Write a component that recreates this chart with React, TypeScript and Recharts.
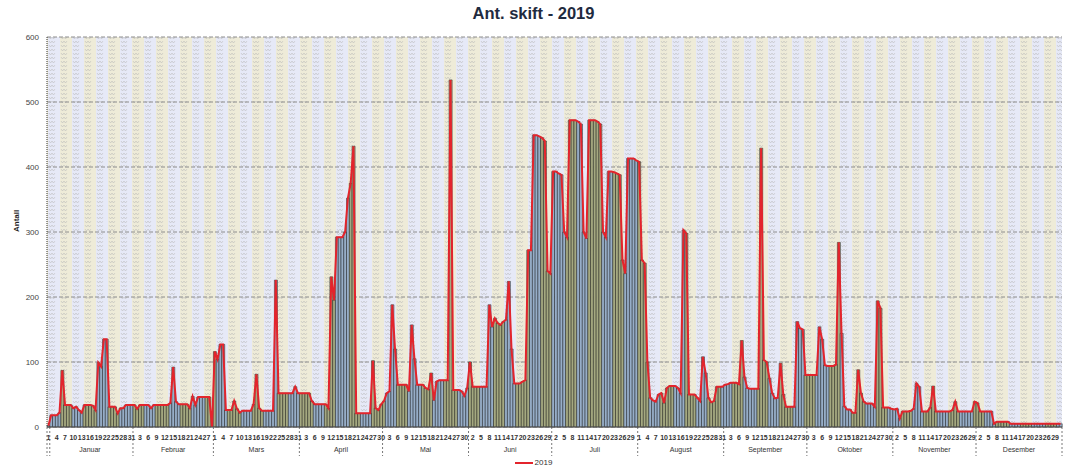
import React from "react";
import { ComposedChart, Bar, Line, XAxis, YAxis, CartesianGrid, Cell } from "recharts";

// month names on the lower axis row
const MONTHS = ["Januar", "Februar", "Mars", "April", "Mai", "Juni", "Juli", "August", "September", "Oktober", "November", "Desember"];

// daily shift counts (Feb has a 29th slot with no value)
const jan = [2, 18, 18, 18, 22, 87, 34, 34, 34, 29, 31, 26, 22, 34, 34, 34, 33, 26, 99, 93, 135, 135, 31, 31, 31, 21, 29, 29, 34, 34, 34];
const feb = [34, 28, 34, 34, 34, 34, 29, 34, 34, 34, 34, 34, 34, 37, 92, 39, 35, 35, 35, 35, 29, 47, 34, 46, 46, 46, 46, 46, 0];
const mar = [116, 104, 127, 127, 26, 26, 26, 40, 28, 22, 25, 25, 25, 25, 35, 81, 29, 25, 25, 25, 25, 25, 226, 52, 52, 52, 52, 52, 52, 62, 52];
const apr = [52, 52, 52, 52, 40, 35, 35, 35, 35, 35, 29, 231, 195, 292, 292, 292, 300, 352, 375, 432, 21, 21, 21, 21, 21, 21, 102, 29, 26, 35];
const mai = [40, 52, 55, 188, 120, 65, 65, 65, 65, 55, 157, 105, 65, 65, 65, 60, 58, 83, 41, 70, 72, 72, 72, 72, 534, 57, 57, 57, 55, 48, 60];
const jun = [100, 62, 62, 62, 62, 62, 62, 188, 154, 167, 160, 157, 162, 165, 224, 120, 67, 67, 67, 70, 72, 272, 272, 449, 449, 447, 445, 440, 240, 236];
const jul = [393, 393, 390, 388, 300, 292, 472, 472, 472, 470, 466, 300, 290, 472, 472, 472, 470, 466, 300, 292, 393, 393, 392, 390, 388, 257, 236, 413, 413, 413, 410];
const aug = [408, 257, 252, 100, 45, 41, 39, 50, 52, 37, 60, 63, 63, 63, 60, 52, 303, 298, 50, 50, 50, 45, 40, 108, 83, 45, 38, 40, 62, 62, 62];
const sep = [65, 66, 68, 68, 68, 66, 133, 77, 60, 59, 59, 59, 59, 429, 103, 100, 75, 52, 44, 45, 98, 50, 31, 31, 31, 31, 162, 152, 150, 80];
const okt = [80, 80, 80, 80, 154, 135, 95, 94, 94, 94, 96, 284, 144, 32, 27, 27, 22, 22, 88, 52, 39, 36, 36, 36, 31, 194, 183, 30, 30, 30, 28];
const nov = [27, 28, 13, 24, 24, 24, 25, 28, 67, 62, 24, 24, 24, 30, 63, 24, 24, 24, 24, 24, 24, 26, 39, 24, 24, 24, 24, 24, 24, 39];
const des = [37, 24, 24, 24, 24, 24, 5, 8, 8, 8, 8, 8, 5, 5, 5, 5, 5, 5, 5, 5, 5, 5, 5, 5, 5, 5, 5, 5, 5, 5, 5];

const MONTH_VALUES = [jan, feb, mar, apr, mai, jun, jul, aug, sep, okt, nov, des];
const Y_TICKS = [0, 100, 200, 300, 400, 500, 600];

const data = MONTH_VALUES.flatMap((vals, m) => vals.map((v, d) => ({ month: m, day: d + 1, value: v })))
  .map((row, idx) => ({ ...row, idx }));

const W = 1067;
const H = 469;
const LEFT = 47;
const RIGHT = 1062;
const BOTTOM = 427;
const STEP = (RIGHT - LEFT) / data.length;
const FONT = "'Liberation Sans', Arial, sans-serif";

function AxisTick(props: any) {
  const { x, payload } = props;
  const i = payload.value as number;
  const row = data[i];
  if (!row) return null;
  const els: React.ReactNode[] = [];
  if (i % 3 === 0) {
    els.push(
      <text key="d" x={x} y={440} textAnchor="middle" fontSize={7} fontWeight="bold" fill="#333" fontFamily={FONT}>
        {row.day}
      </text>
    );
  }
  if (row.day === 1 || i === 1) {
    const sx = x - STEP / 2;
    els.push(<line key="s" x1={sx} x2={sx} y1={BOTTOM} y2={456} stroke="#555" strokeDasharray="2 2" strokeWidth={0.8} />);
  }
  if (row.day === 1) {
    const len = MONTH_VALUES[row.month].length;
    const cx = x - STEP / 2 + (len * STEP) / 2;
    els.push(
      <text key="m" x={cx} y={452} textAnchor="middle" fontSize={7} fill="#333" fontFamily={FONT}>
        {MONTHS[row.month]}
      </text>
    );
  }
  if (i === data.length - 1) {
    const ex = x + STEP / 2;
    els.push(<line key="e" x1={ex} x2={ex} y1={BOTTOM} y2={456} stroke="#555" strokeDasharray="2 2" strokeWidth={0.8} />);
  }
  return <g>{els}</g>;
}

export default function App() {
  return (
    <div style={{ position: "absolute", left: 0, top: 0, width: W, height: H, background: "#fff", fontFamily: FONT }}>
      <div style={{ position: "absolute", top: 4, left: 0, width: W, textAlign: "center", fontSize: 16.5, fontWeight: "bold", color: "#1f2b40" }}>
        Ant. skift - 2019
      </div>

      <ComposedChart
        width={W}
        height={H}
        data={data}
        margin={{ top: 37, right: W - RIGHT, left: 0, bottom: 0 }}
        barCategoryGap={0}
        barGap={0}
      >
        <defs>
          <pattern id="bgpat" width={24} height={4} patternUnits="userSpaceOnUse">
            <rect x={0} y={0} width={12} height={4} fill="#e6e9f7" />
            <rect x={12} y={0} width={12} height={4} fill="#eeebd8" />
            <path
              d="M1 1 L2.5 3 L4 1 L5.5 3 L7 1 M13 1 L14.5 3 L16 1 L17.5 3 L19 1"
              stroke="#b4b4b4"
              strokeWidth={0.5}
              fill="none"
            />
          </pattern>
        </defs>
        <CartesianGrid vertical={false} stroke="#8c8c8c" strokeDasharray="4 2" fill="url(#bgpat)" />
        <XAxis
          dataKey="idx"
          type="category"
          interval={0}
          height={42}
          tickLine={false}
          axisLine={{ stroke: "#555" }}
          tick={(p: any) => <AxisTick {...p} />}
        />
        <YAxis
          domain={[0, 600]}
          ticks={Y_TICKS}
          width={LEFT}
          tickLine={false}
          axisLine={{ stroke: "#333", strokeDasharray: "1 1" }}
          tick={{ fontSize: 8, fill: "#444", fontFamily: FONT }}
          label={{ value: "Antall", angle: -90, position: "insideLeft", offset: 16, style: { fontSize: 8, fontWeight: "bold", fill: "#222", fontFamily: FONT } }}
        />
        <Bar dataKey="value" isAnimationActive={false} stroke="#151515" strokeWidth={0.5}>
          {data.map((d) => (
            <Cell key={d.idx} fill={Math.floor((d.idx * STEP) / 12) % 2 === 0 ? "#97aec8" : "#a5a981"} />
          ))}
        </Bar>
        <Line type="linear" dataKey="value" stroke="#e3242c" strokeWidth={2} dot={false} isAnimationActive={false} />
      </ComposedChart>

      <div style={{ position: "absolute", top: 458, left: 0, width: W, display: "flex", justifyContent: "center", alignItems: "center" }}>
        <span style={{ display: "inline-block", width: 18, height: 2, background: "#e3242c", marginRight: 2 }} />
        <span style={{ fontSize: 8, color: "#333" }}>2019</span>
      </div>
    </div>
  );
}
